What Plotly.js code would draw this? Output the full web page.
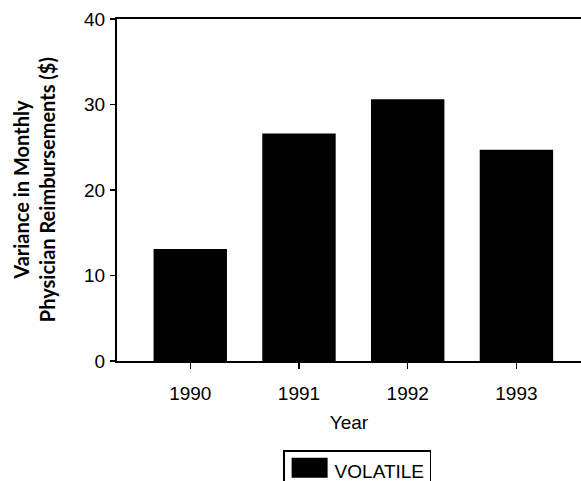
<!DOCTYPE html>
<html>
<head>
<meta charset="utf-8">
<script src="https://cdn.plot.ly/plotly-3.0.1.min.js"></script>
<style>
html,body{margin:0;padding:0;background:#fff;overflow:hidden;}
#chart{width:581px;height:481px;}
</style>
</head>
<body>
<div id="chart"></div>
<script>
const years = ["1990", "1991", "1992", "1993"];
const variance = [13.1, 26.6, 30.6, 24.7];
const seriesName = "VOLATILE";
const yTickVals = [0, 10, 20, 30, 40];
const yTitleLines = ["Variance in Monthly", "Physician Reimbursements ($)"];

const trace = {
  type: "bar",
  x: years,
  y: variance,
  name: seriesName,
  width: 0.675,
  marker: {color: "#000000", line: {width: 0}},
  showlegend: true
};

const layout = {
  width: 581,
  height: 481,
  margin: {l: 117, r: 0, t: 19, b: 109},
  paper_bgcolor: "#ffffff",
  plot_bgcolor: "#ffffff",
  font: {family: "Arial, Liberation Sans, sans-serif", color: "#000", size: 19},
  showlegend: true,
  xaxis: {
    type: "category",
    range: [-0.674, 3.594],
    showline: true,
    linecolor: "#000",
    linewidth: 2,
    mirror: true,
    ticks: "outside",
    ticklen: 6,
    tickwidth: 1.5,
    tickcolor: "#000",
    showgrid: false,
    zeroline: false,
    tickfont: {size: 19},
    ticklabelstandoff: 8,
    title: {text: "Year", font: {size: 19}, standoff: 13}
  },
  yaxis: {
    range: [0, 40],
    tickvals: yTickVals,
    showline: true,
    linecolor: "#000",
    linewidth: 2,
    ticks: "outside",
    ticklen: 5,
    tickwidth: 1.5,
    tickcolor: "#000",
    showgrid: false,
    zeroline: false,
    tickfont: {size: 19},
    ticklabelstandoff: 1
  },
  legend: {
    x: 0.358, xanchor: "left",
    y: -0.2295, yanchor: "top",
    xref: "paper", yref: "paper",
    orientation: "h",
    bordercolor: "#000",
    borderwidth: 1.5,
    bgcolor: "#fff",
    font: {size: 19},
    itemwidth: 40
  },
  annotations: [{
    xref: "paper", yref: "paper",
    x: -0.18, y: 0.501, xanchor: "center", yanchor: "middle",
    textangle: -90,
    showarrow: false,
    text: yTitleLines.join("<br>"),
    font: {family: "Lato, Open Sans, sans-serif", size: 20, color: "#000", weight: "bold"}
  }]
};

Plotly.newPlot("chart", [trace], layout, {displayModeBar: false, staticPlot: true}).then(function (gd) {
  const leg = gd.querySelector(".legend");
  if (leg) {
    const m = /translate\(\s*([-\d.]+)[ ,]+([-\d.]+)\s*\)/.exec(leg.getAttribute("transform") || "");
    if (m) leg.setAttribute("transform", "translate(" + m[1] + "," + (parseFloat(m[2]) + 11) + ")");
  }
  gd.querySelectorAll(".legendpoints path").forEach(function (p) {
    p.setAttribute("d", "M18,7H-18V-13H18Z");
  });
});
</script>
</body>
</html>
